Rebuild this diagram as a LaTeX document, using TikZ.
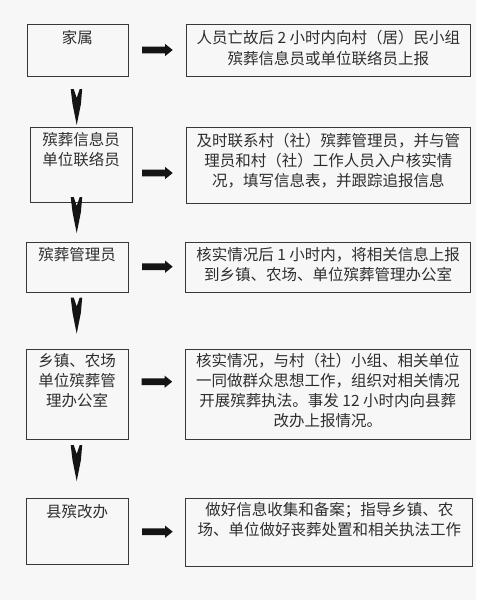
\documentclass[tikz,border=0pt]{standalone}
\usepackage{fontspec}
\setmainfont{Noto Sans CJK SC}
\begin{document}
\begin{tikzpicture}[x=1pt,y=-1pt,
  box/.style={draw=black!78, line width=0.9pt, inner sep=0pt, anchor=north west},
  txt/.style={anchor=north, inner sep=0pt, align=center, text=black!82,
    font=\fontsize{15.5}{20}\selectfont, execute at begin node={\rule{0pt}{14pt}}},
  rarrow/.pic={\fill[black!92] (0,-3.3) -- (23,-3.3) -- (23,-6.2) -- (30.7,0) -- (23,6.2) -- (23,3.3) -- (0,3.3) -- cycle;},
  darrow/.pic={\fill[black!92] (-6,0) -- (-3,0) -- (0,9) -- (3,0) -- (5.5,0) -- (4.2,15) -- (0,36) -- (-4.2,15) -- cycle;}
]
\fill[black!3] (0,0) rectangle (476,600);
\useasboundingbox (0,0) rectangle (497,600);

% boxes
\node[box, minimum width=101pt, minimum height=51.7pt] (L1) at (26.5,24.3) {};
\node[box, minimum width=284pt, minimum height=51.7pt] (R1) at (186,24.3) {};
\node[box, minimum width=101.5pt, minimum height=75pt] (L2) at (30,127) {};
\node[box, minimum width=284pt, minimum height=76pt] (R2) at (186,127) {};
\node[box, minimum width=102pt, minimum height=50.6pt] (L3) at (25.7,241.7) {};
\node[box, minimum width=284.7pt, minimum height=50.6pt] (R3) at (185.3,241.7) {};
\node[box, minimum width=101.5pt, minimum height=90pt] (L4) at (26,349) {};
\node[box, minimum width=285.3pt, minimum height=90pt] (R4) at (184.7,349) {};
\node[box, minimum width=102pt, minimum height=65.7pt] (L5) at (25.7,498.3) {};
\node[box, minimum width=287pt, minimum height=67.4pt] (R5) at (185.3,498.3) {};

% texts
\node[txt] (tL1) at ([yshift=-5.4pt]L1.north) {家属};
\node[txt, font=\fontsize{15.5}{21.7}\selectfont] (tR1) at ([yshift=-5.4pt]R1.north) {人员亡故后 2 小时内向村（居）民小组\\殡葬信息员或单位联络员上报};
\node[txt] (tL2) at ([yshift=-5.4pt]L2.north) {殡葬信息员\\单位联络员};
\node[txt] (tR2) at ([yshift=-6.2pt]R2.north) {及时联系村（社）殡葬管理员，并与管\\理员和村（社）工作人员入户核实情\\况，填写信息表，并跟踪追报信息};
\node[txt] (tL3) at ([yshift=-5pt]L3.north) {殡葬管理员};
\node[txt] (tR3) at ([yshift=-5pt]R3.north) {核实情况后 1 小时内，将相关信息上报\\到乡镇、农场、单位殡葬管理办公室};
\node[txt] (tL4) at ([yshift=-4.5pt]L4.north) {乡镇、农场\\单位殡葬管\\理办公室};
\node[txt] (tR4) at ([yshift=-4.5pt]R4.north) {核实情况，与村（社）小组、相关单位\\一同做群众思想工作，组织对相关情况\\开展殡葬执法。事发 12 小时内向县葬\\改办上报情况。};
\node[txt] (tL5) at ([yshift=-5pt]L5.north) {县殡改办};
\node[txt] (tR5) at ([yshift=-4.2pt]R5.north) {做好信息收集和备案；指导乡镇、农\\场、单位做好丧葬处置和相关执法工作};

% right arrows
\coordinate (ra1) at (142,50);
\coordinate (ra2) at (142,173);
\coordinate (ra3) at (142,266.7);
\coordinate (ra4) at (141.5,381.7);
\coordinate (ra5) at (142,531.7);
\foreach \c in {ra1,ra2,ra3,ra4,ra5} \pic at (\c) {rarrow};

% down arrows
\coordinate (da1) at (76.7,89);
\coordinate (da2) at (76.7,197);
\coordinate (da3) at (76.7,297.5);
\coordinate (da4) at (76.7,445);
\foreach \c in {da1,da2,da3,da4} \pic at (\c) {darrow};
\end{tikzpicture}
\end{document}
